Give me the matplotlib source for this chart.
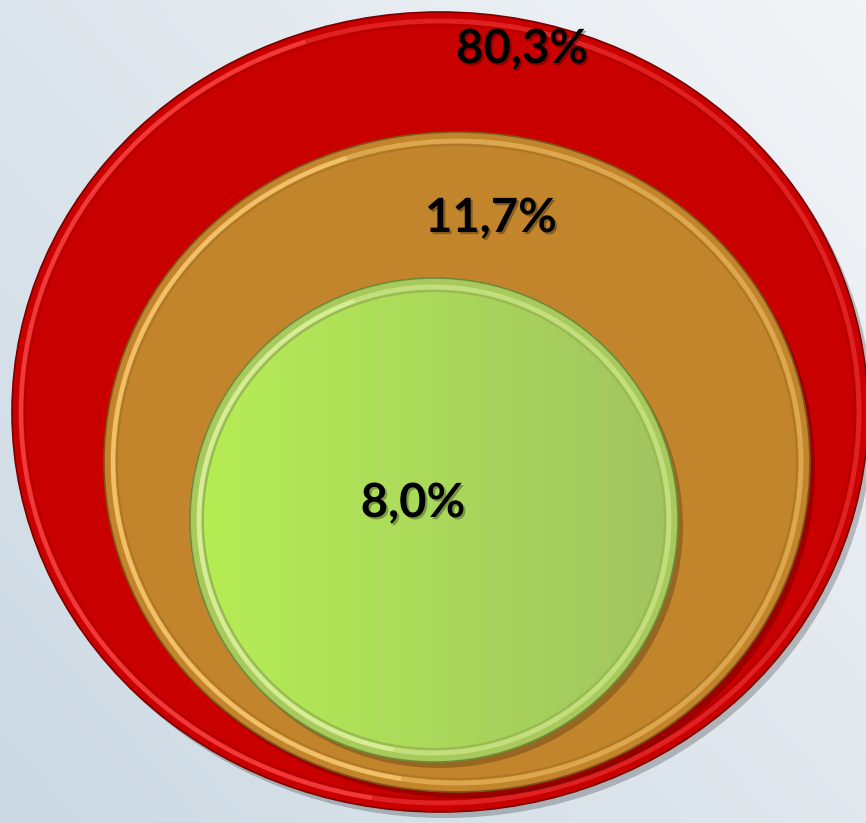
import numpy as np
import matplotlib.pyplot as plt
import matplotlib.patches as mpatches
import matplotlib.patheffects as pe

# valeurs affichées (du cercle extérieur vers le cercle intérieur)
labels = ["80,3%", "11,7%", "8,0%"]
values = [80.3, 11.7, 8.0]

# géométrie des cercles en pixels : centre x, centre y, largeur, hauteur
cx = [440, 457, 434]
cy = [412, 462, 520]
wd = [856, 706, 488]
ht = [800, 660, 484]
# position des étiquettes
lx = [522, 491, 413]
ly = [49, 218, 503]

base = ["#c80000", "#c2852c", "#a8ca5c"]
light = ["#ff4a4a", "#ffd27a", "#e2f8a6"]
dark = ["#7a0000", "#7d5418", "#6d8c3a"]

W, H = 866, 823
fig = plt.figure(figsize=(W / 100, H / 100), dpi=100)
ax = fig.add_axes([0, 0, 1, 1])
ax.set_xlim(0, W)
ax.set_ylim(H, 0)
ax.axis('off')

#--------fond clair bleuté---------#
yy, xx = np.mgrid[0:H, 0:W]
t = np.clip(0.55 * xx / W + 0.45 * (1 - yy / H), 0, 1)
c0 = np.array([0.80, 0.85, 0.89])
c1 = np.array([0.95, 0.96, 0.97])
bg = c0[None, None, :] * (1 - t[..., None]) + c1[None, None, :] * t[..., None]
ax.imshow(bg, extent=(0, W, H, 0), zorder=0, aspect='auto')

for i in range(3):
    z = 2 + 3 * i
    # ombre portée
    sh = mpatches.Ellipse((cx[i] + 5, cy[i] + 6), wd[i], ht[i],
                          facecolor='black', alpha=0.22, edgecolor='none', zorder=z)
    ax.add_patch(sh)
    # disque de base
    e = mpatches.Ellipse((cx[i], cy[i]), wd[i], ht[i], facecolor=base[i],
                         edgecolor=dark[i], lw=1.2, zorder=z + 1)
    ax.add_patch(e)
    # liseré clair (effet biseau), plus marqué côté gauche
    rim = mpatches.Ellipse((cx[i], cy[i]), wd[i] - 18, ht[i] - 18, facecolor='none',
                           edgecolor=light[i], lw=3.5, alpha=0.45, zorder=z + 1.2)
    ax.add_patch(rim)
    arc = mpatches.Arc((cx[i], cy[i]), wd[i] - 18, ht[i] - 18, theta1=100, theta2=250,
                       edgecolor=light[i], lw=3, alpha=0.6, zorder=z + 1.25)
    ax.add_patch(arc)
    inner = mpatches.Ellipse((cx[i], cy[i]), wd[i] - 26, ht[i] - 26, facecolor='none',
                             edgecolor=dark[i], lw=1.5, alpha=0.25, zorder=z + 1.3)
    ax.add_patch(inner)

# dégradé du disque vert
gx = np.linspace(0, 1, 200)
g = np.outer(np.ones(200), gx)
c_a = np.array([0.71, 0.93, 0.33])
c_b = np.array([0.63, 0.77, 0.38])
grad = c_a[None, None, :] * (1 - g[..., None]) + c_b[None, None, :] * g[..., None]
im = ax.imshow(grad, extent=(cx[2] - wd[2] / 2 + 13, cx[2] + wd[2] / 2 - 13,
                             cy[2] + ht[2] / 2 - 13, cy[2] - ht[2] / 2 + 13),
               zorder=9.25, aspect='auto')
clip = mpatches.Ellipse((cx[2], cy[2]), wd[2] - 28, ht[2] - 28, transform=ax.transData)
im.set_clip_path(clip)

for i in range(3):
    ax.text(lx[i], ly[i], labels[i], ha='center', va='center', fontsize=34,
            fontweight='bold', family=['Lato', 'DejaVu Sans'], color='black', zorder=20,
            path_effects=[pe.withSimplePatchShadow(offset=(1.5, -1.5), alpha=0.3)])

fig.savefig("out.png", dpi=100)
